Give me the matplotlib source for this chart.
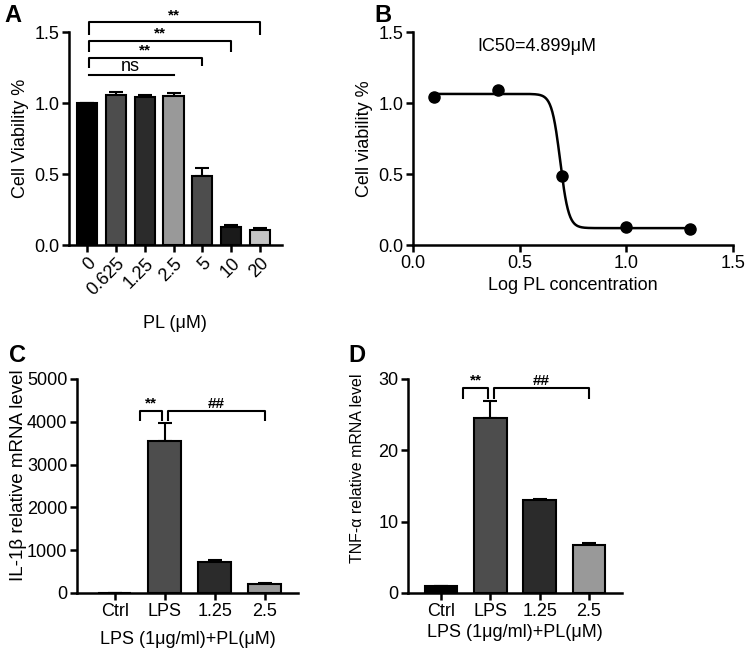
import numpy as np
import matplotlib.pyplot as plt

plt.rcParams['font.family'] = ['Liberation Sans', 'DejaVu Sans']
plt.rcParams['font.size'] = 13

# Panel A: cell viability bars
a_labels = ['0', '0.625', '1.25', '2.5', '5', '10', '20']
a_values = [1.00, 1.06, 1.04, 1.05, 0.49, 0.13, 0.11]
a_errors = [0.0, 0.02, 0.02, 0.02, 0.05, 0.015, 0.012]
a_colors = ['#000000', '#4d4d4d', '#2b2b2b', '#999999', '#4d4d4d', '#1a1a1a', '#c4c4c4']

# Panel B: dose response points and fit
b_logx = [0.1, 0.4, 0.7, 1.0, 1.3]
b_values = [1.04, 1.09, 0.49, 0.13, 0.115]
fit_top, fit_bottom, fit_logic50, fit_hill = 1.065, 0.12, 0.69, 22.0

# Panel C: IL-1b
c_labels = ['Ctrl', 'LPS', '1.25', '2.5']
c_values = [1.0, 3560, 720, 200]
c_errors = [0.0, 400, 50, 30]
c_colors = ['#000000', '#4d4d4d', '#2b2b2b', '#999999']

# Panel D: TNF-a
d_labels = ['Ctrl', 'LPS', '1.25', '2.5']
d_values = [1.0, 24.5, 13.0, 6.7]
d_errors = [0.0, 2.4, 0.2, 0.3]
d_colors = ['#000000', '#4d4d4d', '#2b2b2b', '#999999']

LW = 1.8
FS = 13

fig = plt.figure(figsize=(7.49, 6.59), dpi=100)
axA = fig.add_axes([0.092, 0.628, 0.2844, 0.3232])
axB = fig.add_axes([0.5514, 0.628, 0.4272, 0.3232])
axC = fig.add_axes([0.1028, 0.1002, 0.295, 0.3247])
axD = fig.add_axes([0.5447, 0.1002, 0.2857, 0.3247])


def style(ax):
    for s in ['top', 'right']:
        ax.spines[s].set_visible(False)
    for s in ['left', 'bottom']:
        ax.spines[s].set_linewidth(LW)
    ax.tick_params(width=LW, length=5, labelsize=FS, pad=2)


def bars(ax, values, errors, colors, width):
    x = np.arange(len(values))
    ax.bar(x, values, width=width, color=colors, edgecolor='black', linewidth=1.5, zorder=2)
    ax.errorbar(x, values, yerr=[np.zeros(len(errors)), errors], fmt='none',
                ecolor='black', elinewidth=1.5, capsize=5, capthick=1.5, zorder=1)
    return x


def bracket(ax, x1, x2, y, drop1, drop2, text):
    ax.plot([x1, x1, x2, x2], [y - drop1, y, y, y - drop2], color='black',
            lw=1.5, clip_on=False, solid_capstyle='butt')
    ax.text((x1 + x2) / 2, y, text, ha='center', va='bottom',
            fontsize=11, fontweight='bold')


# A
style(axA)
xa = bars(axA, a_values, a_errors, a_colors, 0.7)
axA.set_xlim(-0.63, 6.76)
axA.set_ylim(0, 1.5)
axA.set_yticks([0, 0.5, 1.0, 1.5])
axA.set_xticks(xa)
axA.set_xticklabels(a_labels, rotation=45, ha='right', va='top', rotation_mode='anchor')
axA.set_ylabel('Cell Viability %', fontsize=FS, labelpad=4)
axA.set_xlabel('PL (μM)', fontsize=FS, labelpad=12)
axA.plot([0.05, 3], [1.2, 1.2], color='black', lw=1.5, clip_on=False)
axA.text(1.5, 1.2, 'ns', ha='center', va='bottom', fontsize=FS)
bracket(axA, 0.05, 4, 1.32, 0.07, 0.06, '**')
bracket(axA, 0.05, 5, 1.44, 0.08, 0.08, '**')
bracket(axA, 0.05, 6, 1.57, 0.09, 0.09, '**')
fig.text(0.006, 0.976, 'A', fontsize=17, fontweight='bold', va='center')

# B
style(axB)
xs = np.linspace(0.1, 1.3, 400)
fit = fit_bottom + (fit_top - fit_bottom) / (1 + 10 ** ((xs - fit_logic50) * fit_hill))
axB.plot(xs, fit, color='black', lw=1.8)
axB.plot(b_logx, b_values, 'o', color='black', ms=8)
axB.set_xlim(0, 1.5)
axB.set_ylim(0, 1.5)
axB.set_xticks([0, 0.5, 1.0, 1.5])
axB.set_xticklabels(['0.0', '0.5', '1.0', '1.5'])
axB.set_yticks([0, 0.5, 1.0, 1.5])
axB.set_ylabel('Cell viability %', fontsize=FS, labelpad=4)
axB.set_xlabel('Log PL concentration', fontsize=FS, labelpad=4)
axB.text(0.58, 1.4, 'IC50=4.899μM', ha='center', va='center', fontsize=FS)
fig.text(0.5, 0.976, 'B', fontsize=17, fontweight='bold', va='center')

# C
style(axC)
xc = bars(axC, c_values, c_errors, c_colors, 0.66)
axC.set_xlim(-0.76, 3.66)
axC.set_ylim(0, 5000)
axC.set_yticks(range(0, 5001, 1000))
axC.set_xticks(xc)
axC.set_xticklabels(c_labels)
axC.set_ylabel('IL-1β relative mRNA level', fontsize=FS + 0.5)
axC.yaxis.set_label_coords(-0.225, 0.55)
axC.set_xlabel('LPS (1μg/ml)+PL(μM)', fontsize=FS, labelpad=8)
bracket(axC, 0.5, 0.95, 4260, 240, 240, '**')
bracket(axC, 1.07, 3, 4260, 240, 240, '##')
fig.text(0.012, 0.46, 'C', fontsize=17, fontweight='bold', va='center')

# D
style(axD)
xd = bars(axD, d_values, d_errors, d_colors, 0.66)
axD.set_xlim(-0.67, 3.67)
axD.set_ylim(0, 30)
axD.set_yticks([0, 10, 20, 30])
axD.set_xticks(xd)
axD.set_xticklabels(d_labels)
axD.set_ylabel('TNF-α relative mRNA level', fontsize=11.5)
axD.yaxis.set_label_coords(-0.2, 0.584)
axD.set_xlabel('LPS (1μg/ml)+PL(μM)', fontsize=FS, labelpad=3)
bracket(axD, 0.45, 0.95, 28.8, 1.6, 1.6, '**')
bracket(axD, 1.07, 3, 28.8, 1.6, 1.6, '##')
fig.text(0.465, 0.46, 'D', fontsize=17, fontweight='bold', va='center')

fig.savefig('out.png', dpi=100)
